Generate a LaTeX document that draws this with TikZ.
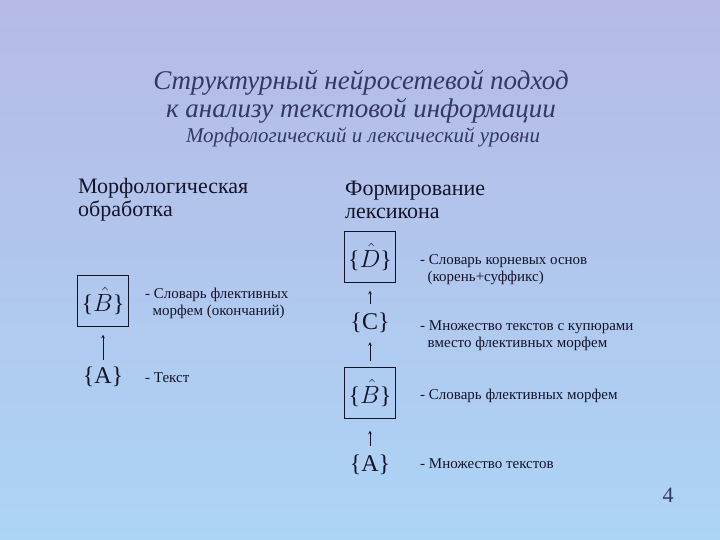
\documentclass[tikz,border=0pt]{standalone}
\usepackage{fontspec}
\setmainfont{Liberation Serif}
\usepackage{tikz}
\usetikzlibrary{arrows}
\definecolor{bgtop}{RGB}{182,186,230}
\definecolor{bgbot}{RGB}{172,212,246}
\definecolor{titleblue}{RGB}{52,56,98}
\definecolor{ink}{RGB}{20,20,40}
\tikzstyle{arrow} = [semithick,->,>=stealth,color=ink]
\tikzstyle{setbox} = [draw=ink, minimum width=51pt, minimum height=51pt, inner sep=0pt]
\tikzstyle{setnode} = [font=\fontsize{24}{26}\selectfont, text=ink, inner sep=1pt]
\tikzstyle{desc} = [font=\fontsize{15}{17}\selectfont, text=ink, anchor=west, align=left, inner sep=0pt]

\begin{document}
\begin{tikzpicture}[x=1pt, y=-1pt]
          % Background
          \shade[top color=bgtop, bottom color=bgbot] (0,0) rectangle (720,540);
          \useasboundingbox (0,0) rectangle (720,540);

          % Title
          \node (title) at (361,97) [align=center, text=titleblue,
            font=\fontsize{27}{28}\selectfont\itshape] {Структурный нейросетевой подход\\к анализу текстовой информации};
          \node (subtitle) at (363,137) [text=titleblue, font=\fontsize{21}{22}\selectfont\itshape] {Морфологический и лексический уровни};

          % Headings
          \node (morph) at (78,200) [anchor=west, align=left, inner sep=0pt, text=ink,
            font=\fontsize{22}{23}\selectfont] {Морфологическая\\обработка};
          \node (lex) at (345,200) [anchor=west, align=left, inner sep=0pt, text=ink,
            font=\fontsize{22}{23}\selectfont] {Формирование\\лексикона};

          % Left column
          \node (lB) at (103,301) [setbox, setnode] {\{$\hat{B}$\}};
          \node (lA) at (103,377) [setnode] {\{A\}};
          \node (lBt) at (145,303) [desc] {- Словарь флективных\\\ \ морфем (окончаний)};
          \node (lAt) at (145,378) [desc] {- Текст};

          % Right column
          \node (rD) at (370,257) [setbox, setnode] {\{$\hat{D}$\}};
          \node (rC) at (370,323) [setnode] {\{C\}};
          \node (rB) at (370,393) [setbox, setnode] {\{$\hat{B}$\}};
          \node (rA) at (370,465) [setnode] {\{A\}};
          \node (rDt) at (420,270) [desc] {- Словарь корневых основ\\\ \ (корень+суффикс)};
          \node (rCt) at (420,336) [desc] {- Множество текстов с купюрами\\\ \ вместо флективных морфем};
          \node (rBt) at (420,396) [desc] {- Словарь флективных морфем};
          \node (rAt) at (420,464) [desc] {- Множество текстов};

          % Page number
          \node (page) at (668,495) [text=titleblue, font=\fontsize{22}{24}\selectfont] {4};

          % Arrows
          \draw[arrow, shorten <=6pt, shorten >=8pt] (lA) -- (lB);
          \draw[arrow, shorten <=8pt, shorten >=12pt] (rA) -- (rB);
          \draw[arrow, shorten <=6pt, shorten >=8pt] (rB) -- (rC);
          \draw[arrow, shorten <=8pt, shorten >=8pt] (rC) -- (rD);

        \end{tikzpicture}
\end{document}
